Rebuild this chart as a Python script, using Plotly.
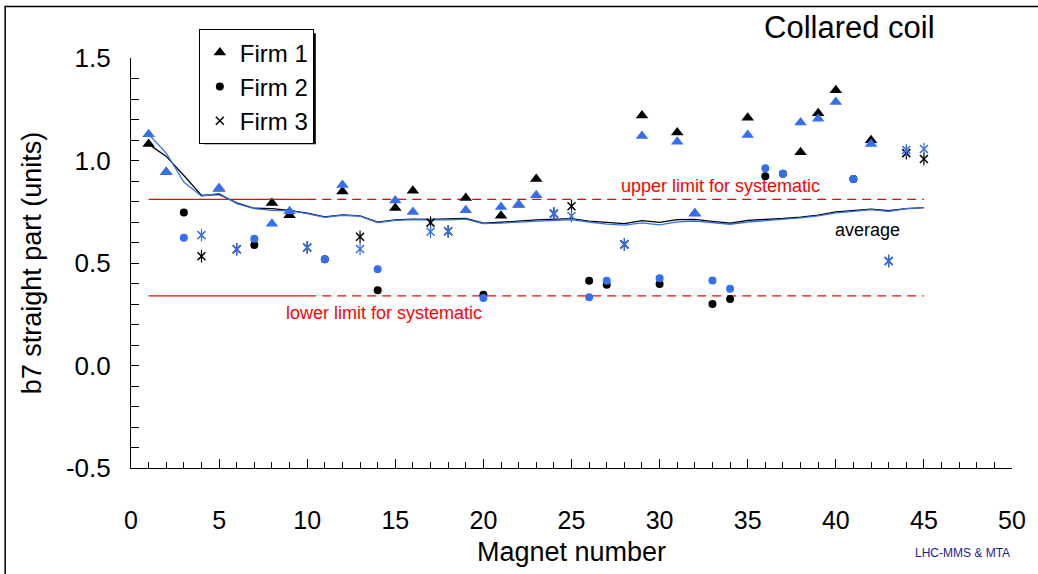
import plotly.graph_objects as go

# ---------------- data ----------------
firm1_magnets = [1, 2, 5, 8, 9, 12, 15, 16, 19, 21, 22, 23, 29, 31, 32, 35, 38, 39, 40, 42]
firm1_black = [1.080, 0.943, 0.862, 0.793, 0.733, 0.849, 0.768, 0.852, 0.817, 0.730,
               0.784, 0.910, 1.220, 1.136, 0.741, 1.209, 1.040, 1.230, 1.343, 1.099]
firm1_blue = [1.128, 0.943, 0.865, 0.692, 0.752, 0.881, 0.805, 0.749, 0.757, 0.773,
              0.784, 0.830, 1.120, 1.091, 0.741, 1.124, 1.185, 1.204, 1.285, 1.080]

firm2_magnets = [3, 7, 11, 14, 20, 26, 27, 30, 33, 34, 36, 37, 41]
firm2_black = [0.746, 0.588, 0.518, 0.367, 0.345, 0.413, 0.394, 0.397, 0.300, 0.324, 0.923, 0.935, 0.910]
firm2_blue = [0.623, 0.618, 0.518, 0.470, 0.329, 0.333, 0.413, 0.426, 0.415, 0.374, 0.962, 0.935, 0.910]

firm3_magnets = [4, 6, 10, 13, 17, 18, 24, 25, 28, 43, 44, 45]
firm3_black = [0.533, 0.567, 0.576, 0.628, 0.697, 0.655, 0.741, 0.777, 0.591, 0.510, 1.036, 1.007]
firm3_blue = [0.636, 0.567, 0.576, 0.568, 0.652, 0.655, 0.741, 0.729, 0.591, 0.510, 1.051, 1.056]

avg_magnets = list(range(1, 46))
avg_black = [1.080, 1.020, 0.927, 0.830, 0.834, 0.793, 0.767, 0.765, 0.757, 0.743,
             0.725, 0.735, 0.730, 0.699, 0.710, 0.714, 0.713, 0.714, 0.717, 0.694,
             0.698, 0.704, 0.710, 0.713, 0.716, 0.704, 0.697, 0.692, 0.707, 0.698,
             0.712, 0.713, 0.703, 0.694, 0.708, 0.712, 0.717, 0.724, 0.734, 0.749,
             0.755, 0.763, 0.755, 0.765, 0.770]
avg_blue = [1.128, 1.036, 0.895, 0.826, 0.839, 0.790, 0.765, 0.757, 0.755, 0.741,
            0.723, 0.733, 0.728, 0.697, 0.708, 0.712, 0.710, 0.710, 0.714, 0.692,
            0.695, 0.700, 0.705, 0.710, 0.712, 0.700, 0.690, 0.685, 0.696, 0.686,
            0.701, 0.705, 0.698, 0.689, 0.700, 0.706, 0.712, 0.720, 0.730, 0.745,
            0.752, 0.760, 0.752, 0.765, 0.770]

upper_limit = 0.81
lower_limit = 0.34
limit_solid_x = [1, 10]
limit_dashed_x = [10, 45]

x_ticks = [0, 5, 10, 15, 20, 25, 30, 35, 40, 45, 50]
y_ticks = [-0.5, 0.0, 0.5, 1.0, 1.5]
y_tick_labels = ["-0.5", "0.0", "0.5", "1.0", "1.5"]

# ---------------- styles ----------------
BLACK = "#000000"
BLUE = "#3470ee"
RED = "#ff0000"
FONT = "Arial, Liberation Sans, sans-serif"

fig = go.Figure()

# limit lines
for val in (upper_limit, lower_limit):
    fig.add_trace(go.Scatter(x=limit_solid_x, y=[val, val], mode="lines",
                             line=dict(color=RED, width=1.2), showlegend=False, hoverinfo="skip"))
    fig.add_trace(go.Scatter(x=limit_dashed_x, y=[val, val], mode="lines",
                             line=dict(color=RED, width=1.2, dash="9px,6px"), showlegend=False,
                             hoverinfo="skip"))

# average lines
fig.add_trace(go.Scatter(x=avg_magnets, y=avg_black, mode="lines",
                         line=dict(color=BLACK, width=1.3), showlegend=False))
fig.add_trace(go.Scatter(x=avg_magnets, y=avg_blue, mode="lines",
                         line=dict(color=BLUE, width=1.3), showlegend=False))

# black markers (legend entries)
fig.add_trace(go.Scatter(x=firm1_magnets, y=firm1_black, mode="markers", name="Firm 1",
                         marker=dict(symbol="triangle-up", size=11, color=BLACK), legendrank=1))
fig.add_trace(go.Scatter(x=firm2_magnets, y=firm2_black, mode="markers", name="Firm 2",
                         marker=dict(symbol="circle", size=8, color=BLACK), legendrank=2))
fig.add_trace(go.Scatter(x=firm3_magnets, y=firm3_black, mode="markers", name="Firm 3",
                         marker=dict(symbol="x-thin-open", size=8, color=BLACK,
                                     line=dict(color=BLACK, width=1.5)), legendrank=3))
fig.add_trace(go.Scatter(x=firm3_magnets, y=firm3_black, mode="markers", showlegend=False,
                         marker=dict(symbol="line-ns-open", size=9, color=BLACK,
                                     line=dict(color=BLACK, width=1.2))))

# blue markers
fig.add_trace(go.Scatter(x=firm1_magnets, y=firm1_blue, mode="markers", showlegend=False,
                         marker=dict(symbol="triangle-up", size=11, color=BLUE)))
fig.add_trace(go.Scatter(x=firm2_magnets, y=firm2_blue, mode="markers", showlegend=False,
                         marker=dict(symbol="circle", size=8, color=BLUE)))
fig.add_trace(go.Scatter(x=firm3_magnets, y=firm3_blue, mode="markers", showlegend=False,
                         marker=dict(symbol="x-thin-open", size=8, color=BLUE,
                                     line=dict(color=BLUE, width=1.5))))
fig.add_trace(go.Scatter(x=firm3_magnets, y=firm3_blue, mode="markers", showlegend=False,
                         marker=dict(symbol="line-ns-open", size=9, color=BLUE,
                                     line=dict(color=BLUE, width=1.2))))

fig.update_layout(
    width=1038, height=574, autosize=False,
    margin=dict(l=131, r=25, t=58, b=103, pad=0),
    paper_bgcolor="white", plot_bgcolor="white",
    font=dict(family=FONT, color="black", size=24),
    showlegend=True,
    legend=dict(x=0.077, y=1.070, xanchor="left", yanchor="top",
                bgcolor="white", bordercolor="black", borderwidth=1,
                font=dict(size=24, family=FONT), itemwidth=30, tracegroupgap=0,
                traceorder="normal"),
    xaxis=dict(range=[0, 50], tickvals=x_ticks, ticks="inside", ticklen=9, tickwidth=1,
               tickcolor="black", showline=True, linecolor="black", linewidth=1.2,
               showgrid=False, zeroline=False, tickfont=dict(size=25),
               ticklabelstandoff=30,
               minor=dict(dtick=1, ticks="inside", ticklen=6, tickcolor="black", showgrid=False),
               title=dict(text="Magnet number", font=dict(size=27), standoff=9)),
    yaxis=dict(range=[-0.5, 1.5], tickvals=y_ticks, ticktext=y_tick_labels, ticks="inside",
               ticklen=8, tickwidth=1, tickcolor="black", showline=True, linecolor="black",
               linewidth=1.2, showgrid=False, zeroline=False, tickfont=dict(size=26),
               ticklabelstandoff=14,
               minor=dict(dtick=0.1, tick0=-0.5, ticks="inside", ticklen=8, tickcolor="black",
                          showgrid=False),
               title=dict(text="b7 straight part (units)", font=dict(size=27), standoff=16)),
    shapes=[
        # legend shadow
        dict(type="rect", xref="paper", yref="paper", layer="above",
             x0=(204 - 131) / 882, x1=(316 - 131) / 882,
             y0=(471 - 145) / 413, y1=(471 - 33) / 413,
             fillcolor="black", line=dict(width=0)),
        # outer frame
        dict(type="rect", xref="paper", yref="paper", layer="above",
             x0=(5 - 131) / 882, x1=1.2, y0=-0.5, y1=(471 - 6) / 413,
             line=dict(color="black", width=1.5), fillcolor="rgba(0,0,0,0)"),
    ],
    annotations=[
        dict(text="Collared coil", xref="paper", yref="paper", x=0.816, y=1.075,
             xanchor="center", yanchor="middle",
             showarrow=False, font=dict(size=31, color="black")),
        dict(text="upper limit for systematic", x=33.45, y=0.877, showarrow=False,
             xanchor="center", font=dict(size=18, color=RED)),
        dict(text="lower limit for systematic", x=14.34, y=0.257, showarrow=False,
             xanchor="center", font=dict(size=18, color=RED)),
        dict(text="average", x=41.78, y=0.663, showarrow=False,
             xanchor="center", font=dict(size=18, color="black")),
        dict(text="LHC-MMS & MTA", xref="paper", yref="paper", x=0.944, y=-0.208,
             xanchor="center", yanchor="middle",
             showarrow=False, font=dict(size=12, color="#1c1c8c")),
    ],
)

fig.write_html("out.html", config={"displayModeBar": False},
               post_script="document.body.style.margin='0px';")
